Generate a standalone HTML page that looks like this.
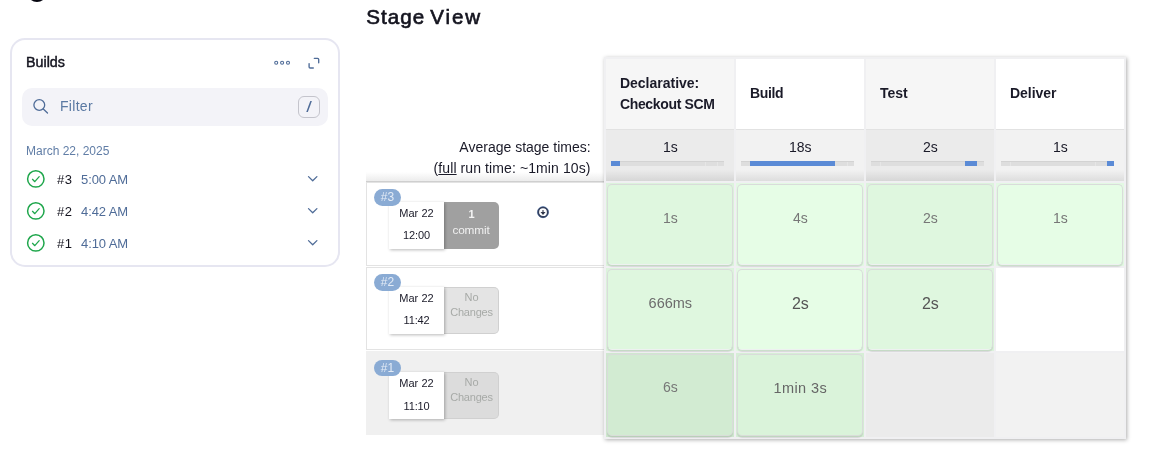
<!DOCTYPE html>
<html lang="en">
<head>
<meta charset="utf-8">
<title>Stage View</title>
<style>
*{box-sizing:border-box;margin:0;padding:0}
html,body{width:1161px;height:455px;overflow:hidden;background:#fff}
body{position:relative;font-family:"Liberation Sans",sans-serif;color:#14141f;font-size:14px}
.abs{position:absolute;white-space:nowrap;line-height:1}
svg{position:absolute;overflow:visible}
#card{position:absolute;left:10.4px;top:38px;width:329.6px;height:228.6px;border:2px solid #e6e6f1;border-radius:15px;background:#fff}
#filter{position:absolute;left:22px;top:88px;width:306px;height:38px;border-radius:10px;background:#f3f3f8}
#key{position:absolute;left:298px;top:96px;width:22px;height:22px;border:1px solid #c4c4cc;border-radius:6px}
.row{position:absolute;left:366px;width:238.5px;border:1px solid #e3e3e3;border-right:none;background:#fff}
#panel{position:absolute;left:604px;top:57px;width:522.2px;height:382.1px;background:#f0f0f2;box-shadow:1px 1px 4px rgba(0,0,0,.32)}
.col{position:absolute;top:1px;width:127.9px;height:380px}
.hd{position:absolute;left:0;top:.9px;width:100%;height:70.1px}
.av{position:absolute;left:0;top:71px;width:100%;height:51.7px}
.cell{position:absolute;left:.8px;width:126px;height:81.2px;border:1px solid #d9dcda;border-bottom-color:#eef1f1;border-radius:5px;box-shadow:0 2px 1px rgba(0,0,0,.10)}
.bar{position:absolute;left:4.95px;top:31px;width:113px;height:5px;background:#dedede;box-shadow:inset 0 1px 0 #d3d3d3}
.bar i{position:absolute;top:0;height:5px;background:#5b8bd6}
.bar u{position:absolute;top:1px;height:4px;width:1px;background:#e6e6e6}
</style>
</head>
<body>
<svg style="left:0;top:0" width="60" height="6"><circle cx="37" cy="-8" r="9.05" fill="none" stroke="#05050f" stroke-width="1.9"/></svg>
<div id="card"></div>
<div class="abs" id="tBuilds" style="top:54.70px;font-size:14.3px;color:#14141f;left:26.00px;-webkit-text-stroke:.45px #14141f;letter-spacing:0">Builds</div>
<svg style="left:270px;top:56px" width="56" height="16" fill="none" stroke="#4f6c98">
  <circle cx="6.2" cy="6.8" r="1.5" stroke-width="1.1"/><circle cx="12.1" cy="6.8" r="1.5" stroke-width="1.1"/><circle cx="18" cy="6.8" r="1.5" stroke-width="1.1"/>
  <path d="M44.3 2.3h3.3a1.1 1.1 0 0 1 1.1 1.1v3.3M43.3 12h-3.1a1.1 1.1 0 0 1-1.1-1.1V7.6" stroke-width="1.35" stroke-linecap="round" stroke-linejoin="round"/>
</svg>
<div id="filter"></div>
<svg style="left:30px;top:96px" width="22" height="22" fill="none" stroke="#4f6c98" stroke-width="1.3" stroke-linecap="round"><circle cx="9.3" cy="9" r="5.4"/><path d="M13.3 13l4.2 4"/></svg>
<div class="abs" id="tFilter" style="top:98.95px;font-size:14px;color:#5a79a3;left:60.00px;letter-spacing:.3px">Filter</div>
<div id="key"></div>
<div class="abs" id="tSlash" style="top:98.80px;font-size:15px;color:#4f6c98;left:298.00px;width:22px;text-align:center;transform:scaleX(1.35)">/</div>
<div class="abs" id="tDate" style="top:144.54px;font-size:12px;color:#607da6;left:26.00px;">March 22, 2025</div>
<svg style="left:26px;top:169px" width="300" height="90" fill="none" stroke-linecap="round" stroke-linejoin="round">
  <g stroke="#1ea64b" stroke-width="1.5">
    <circle cx="9.8" cy="9.9" r="8.2"/><path d="M6.5 10.3l2.3 2.4 4.4-5.1" stroke-width="1.25"/>
    <circle cx="9.8" cy="41.9" r="8.2"/><path d="M6.5 42.3l2.3 2.4 4.4-5.1" stroke-width="1.25"/>
    <circle cx="9.8" cy="73.9" r="8.2"/><path d="M6.5 74.3l2.3 2.4 4.4-5.1" stroke-width="1.25"/>
  </g>
  <g stroke="#4f6c98" stroke-width="1.3">
    <path d="M282.5 7.6l4.2 4.2 4.2-4.2"/><path d="M282.5 39.6l4.2 4.2 4.2-4.2"/><path d="M282.5 71.6l4.2 4.2 4.2-4.2"/>
  </g>
</svg>
<div class="abs" id="n0" style="top:173.00px;font-size:13px;color:#14141f;left:57.00px;letter-spacing:.5px">#3</div>
<div class="abs" id="d0" style="top:173.00px;font-size:13px;color:#4f6c98;left:81.00px;letter-spacing:-.1px">5:00 AM</div>
<div class="abs" id="n1" style="top:205.00px;font-size:13px;color:#14141f;left:57.00px;letter-spacing:.5px">#2</div>
<div class="abs" id="d1" style="top:205.00px;font-size:13px;color:#4f6c98;left:81.00px;letter-spacing:-.1px">4:42 AM</div>
<div class="abs" id="n2" style="top:237.00px;font-size:13px;color:#14141f;left:57.00px;letter-spacing:.5px">#1</div>
<div class="abs" id="d2" style="top:237.00px;font-size:13px;color:#4f6c98;left:81.00px;letter-spacing:-.1px">4:10 AM</div>
<div class="abs" id="tStage" style="top:6.86px;font-size:20.6px;color:#14141f;left:366.30px;-webkit-text-stroke:.65px #14141f;word-spacing:-.6px"><span style="letter-spacing:1px">Stage</span> <span style="letter-spacing:1.9px">View</span></div>
<div style="position:absolute;left:366px;top:172px;width:238.5px;height:9px;background:linear-gradient(#fff,#ececec)"></div>
<div style="position:absolute;left:366px;top:181px;width:238.5px;height:1px;background:#cfcfcf"></div>
<div class="abs" id="tAvg1" style="top:140.05px;font-size:14px;color:#1a1a28;right:570.40px;">Average stage times:</div>
<div class="abs" id="tAvg2" style="top:160.65px;font-size:14px;color:#1a1a28;right:570.40px;letter-spacing:.1px">(<span style="text-decoration:underline">full</span> run time: ~1min 10s)</div>
<div class="row" style="top:182px;height:83.5px;background:#fff;border-color:#e3e3e3"></div>
<div class="row" style="top:266.5px;height:83.5px;background:#fff;border-color:#e3e3e3"></div>
<div class="row" style="top:351px;height:83.5px;background:#f0f0f0;border-color:#f0f0f0"></div>
<div style="position:absolute;left:444px;top:202.0px;width:55px;height:47px;background:#a0a0a0;border-radius:0 5px 5px 0"></div>
<div class="abs" style="top:208.59px;font-size:11px;color:#f4f4f4;left:444.00px;width:55px;text-align:center;font-weight:700">1</div>
<div class="abs" id="tCommit" style="top:225.01px;font-size:11.8px;color:#f0f0f0;left:443.50px;width:55px;text-align:center;letter-spacing:-.15px">commit</div>
<div style="position:absolute;left:389px;top:202.0px;width:55px;height:47px;background:#fff;box-shadow:1px 1px 3px rgba(0,0,0,.28)"></div>
<div class="abs" id="tMar0" style="top:208.19px;font-size:11px;color:#1a1a28;left:389.00px;width:55px;text-align:center;letter-spacing:.05px">Mar 22</div>
<div class="abs" id="tTm0" style="top:230.09px;font-size:11px;color:#1a1a28;left:389.00px;width:55px;text-align:center;letter-spacing:-.15px">12:00</div>
<div style="position:absolute;left:374px;top:189.2px;width:27px;height:16.8px;border-radius:8.4px;background:#8aabd4"></div>
<div class="abs" style="top:191.14px;font-size:12px;color:#e3ebf6;left:374.00px;width:27px;text-align:center;">#3</div>
<div style="position:absolute;left:444px;top:287.0px;width:55px;height:47px;background:#e4e4e4;border:1px solid #d0d0d0;border-left:none;border-radius:0 5px 5px 0"></div>
<div class="abs" style="top:292.19px;font-size:11px;color:#a7aaa7;left:444.00px;width:55px;text-align:center;">No</div>
<div class="abs" id="tChg1" style="top:306.59px;font-size:11px;color:#a7aaa7;left:444.00px;width:55px;text-align:center;letter-spacing:-.2px">Changes</div>
<div style="position:absolute;left:389px;top:287.0px;width:55px;height:47px;background:#fff;box-shadow:1px 1px 3px rgba(0,0,0,.28)"></div>
<div class="abs" id="tMar1" style="top:293.19px;font-size:11px;color:#1a1a28;left:389.00px;width:55px;text-align:center;letter-spacing:.05px">Mar 22</div>
<div class="abs" id="tTm1" style="top:315.09px;font-size:11px;color:#1a1a28;left:389.00px;width:55px;text-align:center;letter-spacing:-.15px">11:42</div>
<div style="position:absolute;left:374px;top:274.2px;width:27px;height:16.8px;border-radius:8.4px;background:#8aabd4"></div>
<div class="abs" style="top:276.14px;font-size:12px;color:#e3ebf6;left:374.00px;width:27px;text-align:center;">#2</div>
<div style="position:absolute;left:444px;top:372.4px;width:55px;height:47px;background:#dcdcdc;border:1px solid #d0d0d0;border-left:none;border-radius:0 5px 5px 0"></div>
<div class="abs" style="top:377.09px;font-size:11px;color:#a7aaa7;left:444.00px;width:55px;text-align:center;">No</div>
<div class="abs" id="tChg2" style="top:391.99px;font-size:11px;color:#a7aaa7;left:444.00px;width:55px;text-align:center;letter-spacing:-.2px">Changes</div>
<div style="position:absolute;left:389px;top:372.4px;width:55px;height:47px;background:#fff;box-shadow:1px 1px 3px rgba(0,0,0,.28)"></div>
<div class="abs" id="tMar2" style="top:378.19px;font-size:11px;color:#1a1a28;left:389.00px;width:55px;text-align:center;letter-spacing:.05px">Mar 22</div>
<div class="abs" id="tTm2" style="top:401.09px;font-size:11px;color:#1a1a28;left:389.00px;width:55px;text-align:center;letter-spacing:-.15px">11:10</div>
<div style="position:absolute;left:374px;top:359.6px;width:27px;height:16.8px;border-radius:8.4px;background:#8aabd4"></div>
<div class="abs" style="top:361.54px;font-size:12px;color:#e3ebf6;left:374.00px;width:27px;text-align:center;">#1</div>
<svg style="left:536.1px;top:205.4px" width="14" height="14" fill="none"><circle cx="7" cy="7.2" r="5.6" stroke="#6c9bd9" stroke-width=".9" opacity=".75"/><circle cx="7" cy="7.2" r="4.8" stroke="#34405e" stroke-width="1.8"/><path d="M7 4.9v3.2M5.6 7.5L7 9.2l1.4-1.7z" stroke="#30364a" stroke-width="1.1" fill="#30364a"/></svg>
<div id="panel">
<div class="col" style="left:2.20px">
<div class="hd" style="background:#f6f6f6"></div>
<div class="abs" id="h0a" style="top:17.65px;font-size:14px;color:#1a1a28;left:13.70px;font-weight:700">Declarative:</div>
<div class="abs" id="h0b" style="top:38.85px;font-size:14px;color:#1a1a28;left:13.70px;font-weight:700;letter-spacing:-.33px">Checkout SCM</div>
<div class="av" style="background:linear-gradient(#ebebeb 0,#ebebeb 78%,#d6d6d6 100%);border-top:1px solid #e2e2e2">
<div class="bar"><i style="left:0px;width:9px"></i><u style="left:93.5px"></u><u style="left:105.5px"></u></div>
</div>
<div class="abs" style="top:82.15px;font-size:14px;color:#1a1a28;left:0.15px;width:128px;text-align:center;">1s</div>
<div style="position:absolute;left:0;top:124.80px;width:100%;height:83.60px;background:#dcf3dc"></div>
<div class="cell" style="top:126.10px;height:80.80px;background:#dff7df"></div>
<div class="abs" style="top:152.75px;font-size:14px;color:#777;left:0.15px;width:128px;text-align:center;">1s</div>
<div style="position:absolute;left:0;top:209.70px;width:100%;height:83.80px;background:#dcf3dc"></div>
<div class="cell" style="top:210.90px;height:81.35px;background:#dff7df"></div>
<div class="abs" style="top:237.53px;font-size:14.5px;color:#6c6c6c;left:0.15px;width:128px;text-align:center;">666ms</div>
<div style="position:absolute;left:0;top:294.60px;width:100%;height:84.80px;background:#cfe7cf"></div>
<div class="cell" style="top:295.70px;height:82.30px;background:#d2ebd2;border-bottom-color:#d9ddd9"></div>
<div class="abs" style="top:322.15px;font-size:14px;color:#777;left:0.15px;width:128px;text-align:center;">6s</div>
</div>
<div class="col" style="left:132.20px">
<div class="hd" style="background:#ffffff"></div>
<div class="abs" id="h1a" style="top:28.15px;font-size:14px;color:#1a1a28;left:13.70px;font-weight:700;letter-spacing:-.3px">Build</div>
<div class="av" style="background:linear-gradient(#f2f2f2 0,#f2f2f2 78%,#dddddd 100%);border-top:1px solid #e2e2e2">
<div class="bar"><i style="left:9px;width:85px"></i><u style="left:105.5px"></u></div>
</div>
<div class="abs" style="top:82.15px;font-size:14px;color:#1a1a28;left:0.15px;width:128px;text-align:center;">18s</div>
<div style="position:absolute;left:0;top:124.80px;width:100%;height:83.60px;background:#e3f9e3"></div>
<div class="cell" style="top:126.10px;height:80.80px;background:#e6fde6"></div>
<div class="abs" style="top:153.15px;font-size:14px;color:#777;left:0.15px;width:128px;text-align:center;">4s</div>
<div style="position:absolute;left:0;top:209.70px;width:100%;height:83.80px;background:#e3f9e3"></div>
<div class="cell" style="top:210.90px;height:81.35px;background:#e6fde6"></div>
<div class="abs" style="top:238.46px;font-size:16px;color:#555;left:0.15px;width:128px;text-align:center;">2s</div>
<div style="position:absolute;left:0;top:294.60px;width:100%;height:84.80px;background:#d6eed6"></div>
<div class="cell" style="top:295.70px;height:82.30px;background:#daf3da;border-bottom-color:#d9ddd9"></div>
<div class="abs" style="top:322.93px;font-size:14.5px;color:#666;left:0.15px;width:128px;text-align:center;letter-spacing:.4px">1min 3s</div>
</div>
<div class="col" style="left:262.20px">
<div class="hd" style="background:#f6f6f6"></div>
<div class="abs" id="h2a" style="top:28.15px;font-size:14px;color:#1a1a28;left:13.70px;font-weight:700">Test</div>
<div class="av" style="background:linear-gradient(#ebebeb 0,#ebebeb 78%,#d6d6d6 100%);border-top:1px solid #e2e2e2">
<div class="bar"><i style="left:94px;width:12px"></i><u style="left:8.5px"></u></div>
</div>
<div class="abs" style="top:82.15px;font-size:14px;color:#1a1a28;left:0.15px;width:128px;text-align:center;">2s</div>
<div style="position:absolute;left:0;top:124.80px;width:100%;height:83.60px;background:#dcf3dc"></div>
<div class="cell" style="top:126.10px;height:80.80px;background:#dff7df"></div>
<div class="abs" style="top:153.15px;font-size:14px;color:#777;left:0.15px;width:128px;text-align:center;">2s</div>
<div style="position:absolute;left:0;top:209.70px;width:100%;height:83.80px;background:#dcf3dc"></div>
<div class="cell" style="top:210.90px;height:81.35px;background:#dff7df"></div>
<div class="abs" style="top:238.46px;font-size:16px;color:#555;left:0.15px;width:128px;text-align:center;">2s</div>
<div style="position:absolute;left:0;top:294.60px;width:100%;height:84.80px;background:#ebebeb"></div>
</div>
<div class="col" style="left:392.20px">
<div class="hd" style="background:#ffffff"></div>
<div class="abs" id="h3a" style="top:28.15px;font-size:14px;color:#1a1a28;left:13.70px;font-weight:700">Deliver</div>
<div class="av" style="background:linear-gradient(#f2f2f2 0,#f2f2f2 78%,#dddddd 100%);border-top:1px solid #e2e2e2">
<div class="bar"><i style="left:106px;width:7px"></i><u style="left:8.5px"></u><u style="left:93.5px"></u></div>
</div>
<div class="abs" style="top:82.15px;font-size:14px;color:#1a1a28;left:0.15px;width:128px;text-align:center;">1s</div>
<div style="position:absolute;left:0;top:124.80px;width:100%;height:83.60px;background:#e3f9e3"></div>
<div class="cell" style="top:126.10px;height:80.80px;background:#e6fde6"></div>
<div class="abs" style="top:152.75px;font-size:14px;color:#777;left:0.15px;width:128px;text-align:center;">1s</div>
<div style="position:absolute;left:0;top:209.70px;width:100%;height:83.80px;background:#fff"></div>
<div style="position:absolute;left:0;top:294.60px;width:100%;height:84.80px;background:#f2f2f2"></div>
</div>
</div>
</body>
</html>
